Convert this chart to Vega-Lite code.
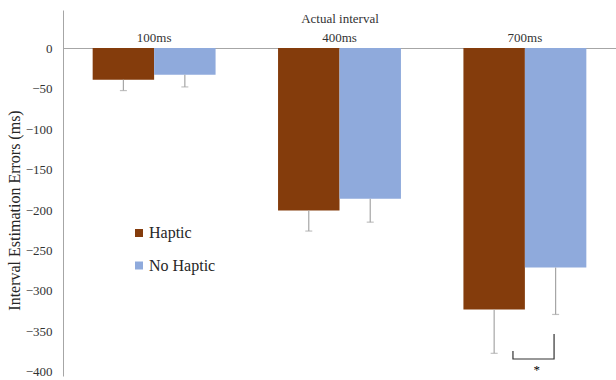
{
  "$schema": "https://vega.github.io/schema/vega-lite/v6.json",
  "width": 553,
  "height": 366,
  "autosize": {"type": "none"},
  "padding": {"left": 63, "top": 10, "right": 0, "bottom": 4},
  "background": "white",
  "config": {
    "font": "Liberation Serif",
    "view": {"stroke": null},
    "axis": {"labelFont": "Liberation Serif", "titleFont": "Liberation Serif"},
    "legend": {"labelFont": "Liberation Serif", "titleFont": "Liberation Serif"},
    "text": {"font": "Liberation Serif"},
    "axisY": {
      "domainColor": "#a6a6a6",
      "domainWidth": 1,
      "ticks": false,
      "grid": false,
      "labelFontSize": 13,
      "labelColor": "#333333",
      "labelPadding": 11,
      "titleFontSize": 16,
      "titleFontWeight": "normal",
      "titleColor": "#262626",
      "titleAngle": -90,
      "titleX": -49,
      "titleY": 200,
      "titleAlign": "center",
      "titleBaseline": "middle"
    },
    "axisX": {
      "orient": "top",
      "offset": -38,
      "domainColor": "#a6a6a6",
      "domainWidth": 1,
      "ticks": false,
      "grid": false,
      "labelAngle": 0,
      "labelFontSize": 13,
      "labelColor": "#333333",
      "labelPadding": 4,
      "titleFontSize": 13,
      "titleFontWeight": "normal",
      "titleColor": "#333333",
      "titlePadding": 6
    }
  },
  "datasets": {
    "bars": [
      {"interval": "100ms", "group": "Haptic", "mean": -39, "lower": -52.5},
      {"interval": "100ms", "group": "No Haptic", "mean": -33, "lower": -48},
      {"interval": "400ms", "group": "Haptic", "mean": -200.5, "lower": -226},
      {"interval": "400ms", "group": "No Haptic", "mean": -186, "lower": -215},
      {"interval": "700ms", "group": "Haptic", "mean": -323, "lower": -377},
      {"interval": "700ms", "group": "No Haptic", "mean": -271, "lower": -329}
    ],
    "bracket": [
      {"bx": 2.441, "by": -374, "o": 1},
      {"bx": 2.441, "by": -384, "o": 2},
      {"bx": 2.664, "by": -384, "o": 3},
      {"bx": 2.664, "by": -353, "o": 4}
    ],
    "star": [
      {"bx": 2.57, "by": -398, "label": "*"}
    ]
  },
  "resolve": {"scale": {"x": "independent"}, "axis": {"x": "independent"}},
  "layer": [
    {
      "data": {"name": "bars"},
      "encoding": {
        "x": {
          "field": "interval",
          "type": "nominal",
          "sort": ["100ms", "400ms", "700ms"],
          "title": "Actual interval",
          "scale": {"paddingInner": 0.337, "paddingOuter": 0.16}
        },
        "xOffset": {
          "field": "group",
          "type": "nominal",
          "sort": ["Haptic", "No Haptic"],
          "scale": {"paddingInner": 0, "paddingOuter": 0}
        }
      },
      "layer": [
        {
          "mark": {"type": "bar"},
          "encoding": {
            "y": {
              "field": "mean",
              "type": "quantitative",
              "title": "Interval Estimation Errors (ms)",
              "scale": {"domain": [-405, 47], "nice": false, "zero": false},
              "axis": {"values": [0, -50, -100, -150, -200, -250, -300, -350, -400]}
            },
            "color": {
              "field": "group",
              "type": "nominal",
              "scale": {"domain": ["Haptic", "No Haptic"], "range": ["#843C0C", "#8FAADC"]},
              "legend": {
                "title": null,
                "orient": "none",
                "legendX": 68,
                "legendY": 215,
                "padding": 0,
                "symbolType": "square",
                "symbolSize": 64,
                "symbolStrokeWidth": 0,
                "labelFont": "Liberation Serif",
                "labelFontSize": 16,
                "labelColor": "#262626",
                "labelOffset": 2,
                "rowPadding": 16.5
              }
            }
          }
        },
        {
          "mark": {"type": "rule", "color": "#a6a6a6", "strokeWidth": 1.2},
          "encoding": {
            "y": {"field": "mean", "type": "quantitative", "title": "Interval Estimation Errors (ms)"},
            "y2": {"field": "lower"}
          }
        },
        {
          "mark": {"type": "tick", "color": "#a6a6a6", "size": 7, "thickness": 1.2, "orient": "horizontal"},
          "encoding": {
            "y": {"field": "lower", "type": "quantitative", "title": "Interval Estimation Errors (ms)"}
          }
        }
      ]
    },
    {
      "layer": [
        {
          "data": {"name": "bracket"},
          "mark": {"type": "line", "color": "#333333", "strokeWidth": 1.2},
          "encoding": {
            "x": {"field": "bx", "type": "quantitative", "scale": {"domain": [0, 3], "nice": false, "zero": false}, "axis": null},
            "y": {"field": "by", "type": "quantitative", "title": "Interval Estimation Errors (ms)"},
            "order": {"field": "o"}
          }
        },
        {
          "data": {"name": "star"},
          "mark": {"type": "text", "fontSize": 13, "fill": "#000000", "font": "Liberation Serif", "baseline": "middle"},
          "encoding": {
            "x": {"field": "bx", "type": "quantitative", "scale": {"domain": [0, 3], "nice": false, "zero": false}, "axis": null},
            "y": {"field": "by", "type": "quantitative", "title": "Interval Estimation Errors (ms)"},
            "text": {"field": "label"}
          }
        }
      ]
    }
  ]
}
